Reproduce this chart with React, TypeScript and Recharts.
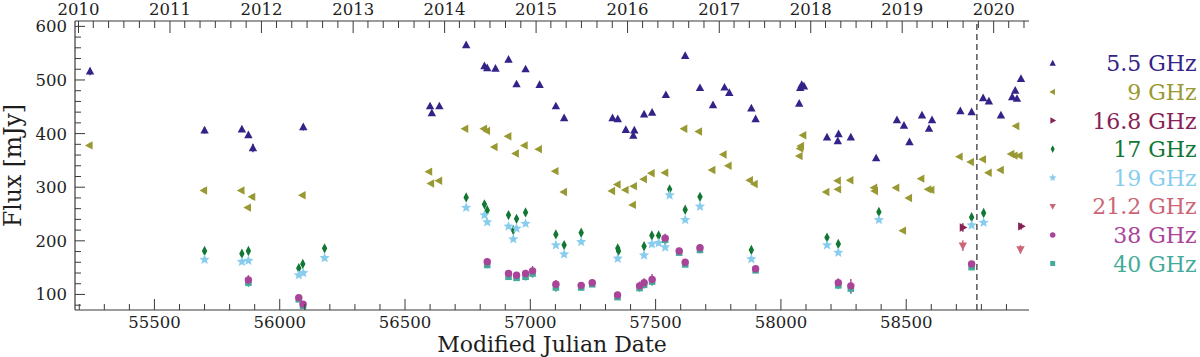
import React from 'react';
import { ScatterChart, Scatter, XAxis, YAxis, ReferenceLine, ErrorBar, Legend } from 'recharts';

const FONT = '"DejaVu Serif", "Liberation Serif", serif';
const INK = '#1e1e1e';
const AXIS_COLOR = '#3a3a3a';

const W = 1200;
const H = 357;
const MARGIN = { top: 0, right: 171, bottom: 0, left: 0 };
const TOP_AXIS_H = 21;
const BOTTOM_AXIS_H = 47;
const LEFT_AXIS_W = 75;

const mjdDomain: [number, number] = [55183, 58990];
const fluxDomain: [number, number] = [71, 610];
const mjdLabels = [55500, 56000, 56500, 57000, 57500, 58000, 58500];
const mjdMinorStep = 100;
const fluxLabels = [100, 200, 300, 400, 500, 600];
const fluxMinorStep = 20;
const yearLabels = [2010, 2011, 2012, 2013, 2014, 2015, 2016, 2017, 2018, 2019, 2020];
const monthsPerMinorTick = 2;
const dashedEpoch = 58782;

// [MJD, flux (mJy), error (mJy)]
const flux5p5: number[][] = [
  [55243, 516, 7], [55700, 406, 6], [55849, 408, 4], [55875, 397, 5], [55893, 373, 8], [56094, 412, 6],
  [56600, 451, 4], [56607, 438, 4], [56637, 451, 3], [56744, 565, 3], [56817, 526, 3], [56828, 522, 3],
  [56861, 521, 3], [56913, 538, 3], [56945, 492, 3], [56981, 520, 3], [57037, 491, 3], [57102, 451, 3],
  [57135, 429, 3], [57328, 429, 3], [57349, 427, 3], [57381, 407, 3], [57411, 396, 3], [57415, 406, 3],
  [57454, 436, 3], [57486, 439, 3], [57541, 472, 3], [57618, 545, 3], [57677, 485, 3], [57729, 453, 3],
  [57775, 486, 3], [57794, 476, 3], [57882, 447, 3], [57899, 427, 5], [58073, 456, 3], [58077, 485, 3],
  [58083, 491, 3], [58092, 488, 3], [58184, 393, 3], [58227, 386, 3], [58230, 399, 3], [58279, 393, 3],
  [58380, 354, 4], [58463, 425, 3], [58491, 415, 3], [58513, 384, 3], [58563, 434, 3], [58591, 409, 3],
  [58603, 425, 3], [58716, 442, 3], [58761, 440, 3], [58807, 466, 3], [58830, 460, 3], [58878, 434, 3],
  [58923, 468, 3], [58935, 480, 3], [58942, 465, 3], [58958, 502, 3],
];

const flux9: number[][] = [
  [55241, 378, 5], [55698, 294, 5], [55847, 294, 3], [55873, 262, 3], [55890, 282, 5], [56091, 285, 4],
  [56596, 329, 3], [56604, 307, 3], [56636, 312, 3], [56740, 409, 3], [56815, 409, 3], [56827, 405, 3],
  [56857, 375, 3], [56912, 395, 3], [56942, 363, 3], [56977, 378, 3], [57034, 371, 3], [57100, 330, 3],
  [57134, 291, 3], [57326, 293, 3], [57348, 305, 3], [57380, 295, 3], [57409, 267, 3], [57413, 302, 3],
  [57453, 315, 3], [57484, 326, 3], [57538, 327, 3], [57614, 409, 3], [57673, 404, 3], [57726, 332, 3],
  [57771, 361, 3], [57791, 340, 3], [57876, 313, 3], [57895, 306, 3], [58074, 358, 3], [58077, 372, 3],
  [58080, 377, 3], [58089, 397, 3], [58181, 291, 3], [58227, 312, 3], [58228, 296, 3], [58277, 313, 3],
  [58372, 299, 3], [58375, 293, 3], [58460, 299, 3], [58487, 219, 3], [58511, 280, 3], [58560, 316, 3],
  [58588, 296, 3], [58600, 295, 3], [58713, 357, 3], [58758, 347, 3], [58806, 352, 3], [58829, 327, 3],
  [58877, 332, 3], [58919, 362, 3], [58932, 359, 3], [58939, 414, 3], [58952, 359, 3],
];

const flux16p8: number[][] = [[58726, 225, 8], [58959, 227, 6]];

const flux17: number[][] = [
  [55700, 181, 4], [55849, 176, 4], [55875, 181, 4], [56076, 149, 4], [56092, 157, 4], [56179, 186, 4],
  [56744, 281, 4], [56817, 268, 4], [56828, 257, 4], [56913, 248, 4], [56932, 220, 4], [56945, 241, 4],
  [56981, 253, 4], [57102, 212, 4], [57135, 192, 4], [57203, 215, 4], [57349, 186, 4], [57352, 181, 4],
  [57454, 190, 4], [57485, 210, 4], [57512, 210, 4], [57538, 201, 4], [57556, 296, 4], [57618, 258, 4],
  [57677, 282, 4], [57882, 183, 4], [58184, 206, 4], [58229, 194, 4], [58391, 254, 4], [58761, 244, 4],
  [58809, 252, 4],
];

const flux19: number[][] = [
  [55700, 165, 3], [55849, 161, 3], [55875, 163, 3], [56076, 136, 3], [56094, 140, 3], [56179, 168, 3],
  [56744, 262, 3], [56817, 248, 3], [56828, 235, 3], [56913, 227, 3], [56932, 203, 3], [56945, 223, 3],
  [56981, 232, 3], [57102, 192, 3], [57135, 175, 3], [57203, 198, 3], [57349, 167, 3], [57454, 173, 3],
  [57485, 194, 3], [57512, 196, 3], [57538, 188, 3], [57556, 285, 3], [57618, 239, 3], [57677, 264, 3],
  [57882, 166, 3], [58184, 192, 3], [58229, 178, 3], [58391, 239, 3], [58761, 229, 3], [58809, 234, 3],
];

const flux21p2: number[][] = [[58726, 191, 10], [58956, 184, 8]];

const flux38: number[][] = [
  [55875, 127, 9], [56076, 94, 5], [56093, 82, 5], [56828, 161, 6], [56913, 139, 6], [56945, 136, 6],
  [56981, 139, 7], [57009, 144, 9], [57102, 119, 8], [57203, 117, 6], [57247, 122, 6], [57348, 99, 6],
  [57436, 116, 8], [57454, 122, 8], [57486, 128, 10], [57538, 205, 8], [57594, 181, 6], [57618, 160, 6],
  [57677, 187, 7], [57899, 148, 5], [58229, 122, 8], [58279, 116, 13], [58761, 157, 5],
];

const flux40: number[][] = [
  [55875, 122, 8], [56076, 91, 5], [56093, 79, 5], [56828, 155, 6], [56913, 133, 6], [56945, 131, 6],
  [56981, 133, 7], [57009, 139, 8], [57102, 113, 8], [57203, 113, 6], [57247, 119, 5], [57348, 95, 5],
  [57436, 112, 7], [57454, 118, 7], [57486, 124, 8], [57538, 202, 6], [57594, 178, 5], [57618, 156, 5],
  [57677, 183, 6], [57899, 145, 5], [58229, 117, 7], [58279, 111, 10], [58761, 151, 5],
];

type Kind = 'up' | 'left' | 'right' | 'diamond' | 'star' | 'down' | 'circle' | 'square';

const SERIES: { name: string; color: string; kind: Kind; data: number[][] }[] = [
  { name: '5.5 GHz', color: '#332288', kind: 'up', data: flux5p5 },
  { name: '9 GHz', color: '#999933', kind: 'left', data: flux9 },
  { name: '16.8 GHz', color: '#882255', kind: 'right', data: flux16p8 },
  { name: '17 GHz', color: '#117733', kind: 'diamond', data: flux17 },
  { name: '19 GHz', color: '#88CCEE', kind: 'star', data: flux19 },
  { name: '21.2 GHz', color: '#CC6677', kind: 'down', data: flux21p2 },
  { name: '38 GHz', color: '#AA4499', kind: 'circle', data: flux38 },
  { name: '40 GHz', color: '#44AA99', kind: 'square', data: flux40 },
];

// drawing order: 40 GHz beneath 38 GHz
const DRAW_ORDER = ['5.5 GHz', '9 GHz', '16.8 GHz', '17 GHz', '19 GHz', '21.2 GHz', '40 GHz', '38 GHz'];

const toPoints = (rows: number[][]) => rows.map(([x, y, err]) => ({ x, y, err }));

const mjdTicks: number[] = [];
for (let v = Math.ceil(mjdDomain[0] / mjdMinorStep) * mjdMinorStep; v <= mjdDomain[1]; v += mjdMinorStep) mjdTicks.push(v);
const fluxTicks: number[] = [];
for (let v = Math.ceil(fluxDomain[0] / fluxMinorStep) * fluxMinorStep; v <= fluxDomain[1]; v += fluxMinorStep) fluxTicks.push(v);

const mjdOf = (y: number, m: number) => Date.UTC(y, m, 1) / 86400000 + 40587;
const yearTicks: number[] = [];
for (let y = yearLabels[0] - 1; y <= yearLabels[yearLabels.length - 1]; y++) {
  for (let m = 0; m < 12; m += monthsPerMinorTick) {
    const v = mjdOf(y, m);
    if (v >= mjdDomain[0] && v <= mjdDomain[1]) yearTicks.push(v);
  }
}
const yearAt = new Map<number, number>(yearLabels.map((y) => [mjdOf(y, 0), y]));

function markerPath(kind: Kind, cx: number, cy: number, s: number): string {
  const p = (pts: number[][]) => 'M' + pts.map(([a, b]) => `${cx + a * s},${cy + b * s}`).join('L') + 'Z';
  switch (kind) {
    case 'up':
      return p([[0, -4.6], [4.2, 3.1], [-4.2, 3.1]]);
    case 'down':
      return p([[0, 4.6], [4.2, -3.1], [-4.2, -3.1]]);
    case 'left':
      return p([[-4.6, 0], [3.1, -4.2], [3.1, 4.2]]);
    case 'right':
      return p([[4.6, 0], [-3.1, -4.2], [-3.1, 4.2]]);
    case 'diamond':
      return p([[0, -5.2], [2.7, 0], [0, 5.2], [-2.7, 0]]);
    case 'square':
      return p([[-3.3, -3.3], [3.3, -3.3], [3.3, 3.3], [-3.3, 3.3]]);
    case 'star': {
      const pts: number[][] = [];
      for (let i = 0; i < 10; i++) {
        const r = i % 2 === 0 ? 5.4 : 2.4;
        const a = -Math.PI / 2 + (i * Math.PI) / 5;
        pts.push([r * Math.cos(a), r * Math.sin(a)]);
      }
      return p(pts);
    }
    default:
      return '';
  }
}

function Marker({ kind, cx, cy, color, s = 1 }: { kind: Kind; cx: number; cy: number; color: string; s?: number }) {
  if (kind === 'circle') return <circle cx={cx} cy={cy} r={3.7 * s} fill={color} />;
  return <path d={markerPath(kind, cx, cy, s)} fill={color} />;
}

const FluxTickLeft = (props: any) => {
  const { x, y, payload } = props;
  const v = payload.value;
  const major = fluxLabels.includes(v);
  const len = major ? 10 : 6;
  return (
    <g>
      <line x1={x} y1={y} x2={x + len} y2={y} stroke={AXIS_COLOR} strokeWidth={1} />
      {major && (
        <text x={x - 8} y={y + 6} textAnchor="end" fontFamily={FONT} fontSize={16.5} fill={INK}>
          {v}
        </text>
      )}
    </g>
  );
};

const FluxTickRight = (props: any) => {
  const { x, y, payload } = props;
  const major = fluxLabels.includes(payload.value);
  const len = major ? 10 : 6;
  return <line x1={x} y1={y} x2={x - len} y2={y} stroke={AXIS_COLOR} strokeWidth={1} />;
};

const MjdTick = (props: any) => {
  const { x, y, payload } = props;
  const v = payload.value;
  const major = mjdLabels.includes(v);
  const len = major ? 11 : 6;
  return (
    <g>
      <line x1={x} y1={y} x2={x} y2={y - len} stroke={AXIS_COLOR} strokeWidth={1} />
      {major && (
        <text x={x} y={y + 18} textAnchor="middle" fontFamily={FONT} fontSize={16.5} fill={INK}>
          {v}
        </text>
      )}
    </g>
  );
};

const YearTick = (props: any) => {
  const { x, y, payload } = props;
  const yr = yearAt.get(payload.value);
  const len = yr !== undefined ? 12 : 7;
  return (
    <g>
      <line x1={x} y1={y} x2={x} y2={y + len} stroke={AXIS_COLOR} strokeWidth={1} />
      {yr !== undefined && (
        <text x={x} y={y - 6} textAnchor="middle" fontFamily={FONT} fontSize={16.5} fill={INK}>
          {yr}
        </text>
      )}
    </g>
  );
};

const xLabel = (props: any) => {
  const vb = props.viewBox || {};
  return (
    <text x={vb.x + vb.width / 2} y={vb.y + vb.height - 5} textAnchor="middle" fontFamily={FONT} fontSize={22} fill={INK}>
      Modified Julian Date
    </text>
  );
};

const yLabel = (props: any) => {
  const vb = props.viewBox || {};
  const cx = vb.x + 21;
  const cy = vb.y + vb.height / 2;
  return (
    <text x={cx} y={cy} transform={`rotate(-90, ${cx}, ${cy})`} textAnchor="middle" fontFamily={FONT} fontSize={23.5} fill={INK}>
      Flux [mJy]
    </text>
  );
};

const LEGEND_FIRST_Y = 63.3;
const LEGEND_STEP = 28.6;

const renderLegend = () => (
  <svg width={W - 1029} height={H} style={{ display: 'block' }}>
    {SERIES.map((s, i) => {
      const cy = LEGEND_FIRST_Y + i * LEGEND_STEP;
      return (
        <g key={s.name}>
          <Marker kind={s.kind} cx={23.7} cy={cy} color={s.color} s={0.75} />
          <text x={167.5} y={cy + 8} textAnchor="end" fontFamily={FONT} fontSize={22} fill={s.color}>
            {s.name}
          </text>
        </g>
      );
    })}
  </svg>
);

export default function App() {
  const ordered = DRAW_ORDER.map((n) => SERIES.find((s) => s.name === n)!);
  return (
    <div style={{ position: 'absolute', left: 0, top: 0, width: W, height: H, background: '#fff' }}>
      <ScatterChart width={W} height={H} margin={MARGIN} style={{ fontFamily: FONT }}>
        <XAxis
          xAxisId="mjd"
          type="number"
          dataKey="x"
          orientation="bottom"
          domain={mjdDomain}
          allowDataOverflow
          ticks={mjdTicks}
          interval={0}
          height={BOTTOM_AXIS_H}
          tickSize={0}
          tickMargin={0}
          tickLine={false}
          tick={<MjdTick />}
          axisLine={{ stroke: AXIS_COLOR, strokeWidth: 1.2 }}
          label={{ content: xLabel }}
        />
        <XAxis
          xAxisId="year"
          type="number"
          dataKey="x"
          orientation="top"
          domain={mjdDomain}
          allowDataOverflow
          ticks={yearTicks}
          interval={0}
          height={TOP_AXIS_H}
          tickSize={0}
          tickMargin={0}
          tickLine={false}
          tick={<YearTick />}
          axisLine={{ stroke: AXIS_COLOR, strokeWidth: 1.2 }}
        />
        <YAxis
          yAxisId="flux"
          type="number"
          dataKey="y"
          orientation="left"
          domain={fluxDomain}
          allowDataOverflow
          ticks={fluxTicks}
          interval={0}
          width={LEFT_AXIS_W}
          tickSize={0}
          tickMargin={0}
          tickLine={false}
          tick={<FluxTickLeft />}
          axisLine={{ stroke: AXIS_COLOR, strokeWidth: 1.2 }}
          label={{ content: yLabel }}
        />
        <YAxis
          yAxisId="fluxR"
          type="number"
          dataKey="y"
          orientation="right"
          domain={fluxDomain}
          allowDataOverflow
          ticks={fluxTicks}
          interval={0}
          width={0}
          tickSize={0}
          tickMargin={0}
          tickLine={false}
          tick={<FluxTickRight />}
          axisLine={{ stroke: AXIS_COLOR, strokeWidth: 1.2 }}
        />
        <ReferenceLine
          xAxisId="mjd"
          yAxisId="flux"
          x={dashedEpoch}
          stroke="#555"
          strokeWidth={1.5}
          strokeDasharray="6 4"
        />
        {ordered.map((s) => (
          <Scatter
            key={s.name}
            name={s.name}
            data={toPoints(s.data)}
            xAxisId="mjd"
            yAxisId="flux"
            fill={s.color}
            isAnimationActive={false}
            shape={(p: any) => <Marker kind={s.kind} cx={p.cx} cy={p.cy} color={s.color} />}
          >
            <ErrorBar dataKey="err" direction="y" width={0} stroke={s.color} strokeWidth={1.4} />
          </Scatter>
        ))}
        <Legend
          layout="horizontal"
          align="center"
          verticalAlign="middle"
          content={renderLegend}
          wrapperStyle={{ left: 1029, top: 0, width: W - 1029, height: H }}
        />
      </ScatterChart>
    </div>
  );
}
